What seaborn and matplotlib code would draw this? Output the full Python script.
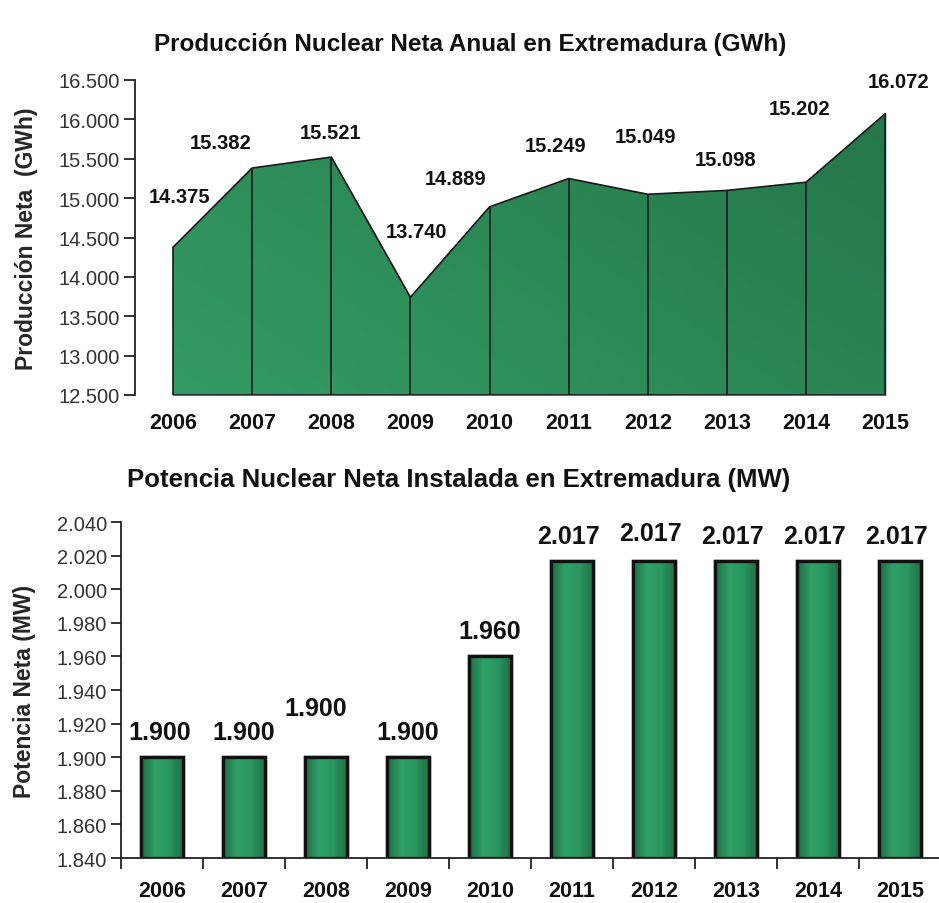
import matplotlib
matplotlib.use("Agg")
from matplotlib import pyplot as plt
import seaborn as sns
import numpy as np
import pandas as pd

years = ["2006", "2007", "2008", "2009", "2010", "2011", "2012", "2013", "2014", "2015"]
produccion = [14375, 15382, 15521, 13740, 14889, 15249, 15049, 15098, 15202, 16072]
potencia = [1900, 1900, 1900, 1900, 1960, 2017, 2017, 2017, 2017, 2017]
prod_ticks = [12500, 13000, 13500, 14000, 14500, 15000, 15500, 16000, 16500]
pot_ticks = [1840, 1860, 1880, 1900, 1920, 1940, 1960, 1980, 2000, 2020, 2040]

# label offsets (pixels) as they sit in the original picture
prod_off = [(7, 51), (-31, 26), (-1, 25), (6, 66), (-34, 28), (-13, 33), (-2, 58), (-1, 31), (-6, 74), (13, 32)]
pot_off = [(-2, 25), (0, 25), (-10, 49), (0, 25), (0, 25), (-4, 25), (-4, 28), (-4, 25), (-3, 25), (-3, 25)]

def es(v):
    return f"{v:,.0f}".replace(",", ".")

sns.set_theme(style="white")
plt.rcParams['font.family'] = ['Liberation Sans', 'DejaVu Sans']

df = pd.DataFrame({"year": years, "x": range(len(years)), "prod": produccion, "pot": potencia})

fig = plt.figure(figsize=(9.39, 9.04), dpi=100)
W, H = 939, 904

area_cmap = matplotlib.colors.LinearSegmentedColormap.from_list("area", ["#349b66", "#2c8856", "#24744a"])
bar_cmap = matplotlib.colors.LinearSegmentedColormap.from_list("bar", ["#1f6e45", "#2fa068", "#2a9660", "#1f6e45"])

# ---- top: area chart
ax1 = fig.add_axes([135 / W, 1 - 396 / H, 766 / W, 315 / H])
poly = ax1.fill_between(df["x"], 12500, df["prod"], color="#2c8856", zorder=1)
gx, gy = np.meshgrid(np.linspace(0, 1, 200), np.linspace(0, 1, 100))
grad = ax1.imshow((gx * 0.6 + gy * 0.4), cmap=area_cmap, aspect="auto", origin="lower",
                  extent=(0, 9, 12500, 16500), zorder=2)
grad.set_clip_path(poly.get_paths()[0], transform=ax1.transData)
sns.lineplot(data=df, x="x", y="prod", color="#1a1a1a", lw=1.2, ax=ax1, zorder=3)
ax1.vlines(df["x"], 12500, df["prod"], color="#1a1a1a", lw=1.2, zorder=3)
ax1.plot([0, 9], [12500, 12500], color="#1a1a1a", lw=1.2, zorder=3)
ax1.set_xlim(-0.48, 9.2)
ax1.set_ylim(12500, 16500)
ax1.set_yticks(prod_ticks)
ax1.set_yticklabels([es(v) for v in prod_ticks])
ax1.set_xticks(df["x"])
ax1.set_xticklabels(years, fontweight="bold")
for s in ["top", "right", "bottom"]:
    ax1.spines[s].set_visible(False)
ax1.spines["left"].set_color("#222222")
ax1.spines["left"].set_linewidth(1.3)
ax1.tick_params(axis="y", direction="out", length=8, width=1.3, color="#222222",
                labelsize=14.5, labelcolor="#333333", pad=3, left=True)
ax1.tick_params(axis="x", length=0, labelsize=15.5, labelcolor="#111111", pad=12)
ax1.set_xlabel("")
ax1.set_ylabel("Producción Neta  (GWh)", fontsize=16.5, fontweight="bold", labelpad=15)
for i, v in enumerate(produccion):
    dx, dy = prod_off[i]
    ax1.annotate(es(v), (i, v), xytext=(dx * 0.72, dy * 0.72), textcoords="offset points",
                 ha="center", va="center", fontsize=14.5, fontweight="bold", color="#111111")

fig.text(470 / W, 1 - 45 / H, "Producción Nuclear Neta Anual en Extremadura (GWh)",
         ha="center", va="center", fontsize=17.5, fontweight="bold", color="#111111")

# ---- bottom: bar chart
ax2 = fig.add_axes([121 / W, 1 - 859 / H, 820 / W, 336 / H])
ylo, yhi = 1840, 2040
sns.barplot(data=df, x="year", y="pot", color="#2a9660", saturation=1, width=0.52,
            edgecolor="#111111", linewidth=2.4, ax=ax2)
for p in list(ax2.patches):
    x0, w, top = p.get_x(), p.get_width(), p.get_y() + p.get_height()
    ax2.imshow(np.linspace(0, 1, 50).reshape(1, -1), cmap=bar_cmap, aspect="auto",
               extent=(x0, x0 + w, ylo, top), zorder=p.get_zorder() + 0.1)
    ax2.add_patch(matplotlib.patches.Rectangle((x0, ylo), w, top - ylo, fill=False,
                                               edgecolor="#111111", lw=2.4, zorder=p.get_zorder() + 0.2))
ax2.set_xlim(-0.5, 9.5)
ax2.set_ylim(ylo, yhi)
ax2.set_yticks(pot_ticks)
ax2.set_yticklabels([es(v) for v in pot_ticks])
ax2.set_xticks([i + 0.5 for i in range(-1, 10)], minor=True)
ax2.set_xticks(range(10))
ax2.set_xticklabels(years, fontweight="bold")
for s in ["top", "right"]:
    ax2.spines[s].set_visible(False)
for s in ["left", "bottom"]:
    ax2.spines[s].set_color("#222222")
    ax2.spines[s].set_linewidth(1.3)
    ax2.spines[s].set_zorder(5)
ax2.tick_params(axis="y", direction="out", length=7, width=1.3, color="#222222",
                labelsize=14.5, labelcolor="#333333", pad=3, left=True)
ax2.tick_params(axis="x", which="major", length=0, labelsize=15.5, labelcolor="#111111", pad=16)
ax2.tick_params(axis="x", which="minor", direction="out", length=8, width=1.3,
                color="#222222", bottom=True)
ax2.set_xlabel("")
ax2.set_ylabel("Potencia Neta (MW)", fontsize=16.5, fontweight="bold", labelpad=15)
for i, v in enumerate(potencia):
    dx, dy = pot_off[i]
    ax2.annotate(es(v), (i, v), xytext=(dx * 0.72, dy * 0.72), textcoords="offset points",
                 ha="center", va="center", fontsize=18, fontweight="bold", color="#111111")

fig.text(459 / W, 1 - 480 / H, "Potencia Nuclear Neta Instalada en Extremadura (MW)",
         ha="center", va="center", fontsize=18.5, fontweight="bold", color="#111111")

fig.savefig("out.png", dpi=100, facecolor="white")
